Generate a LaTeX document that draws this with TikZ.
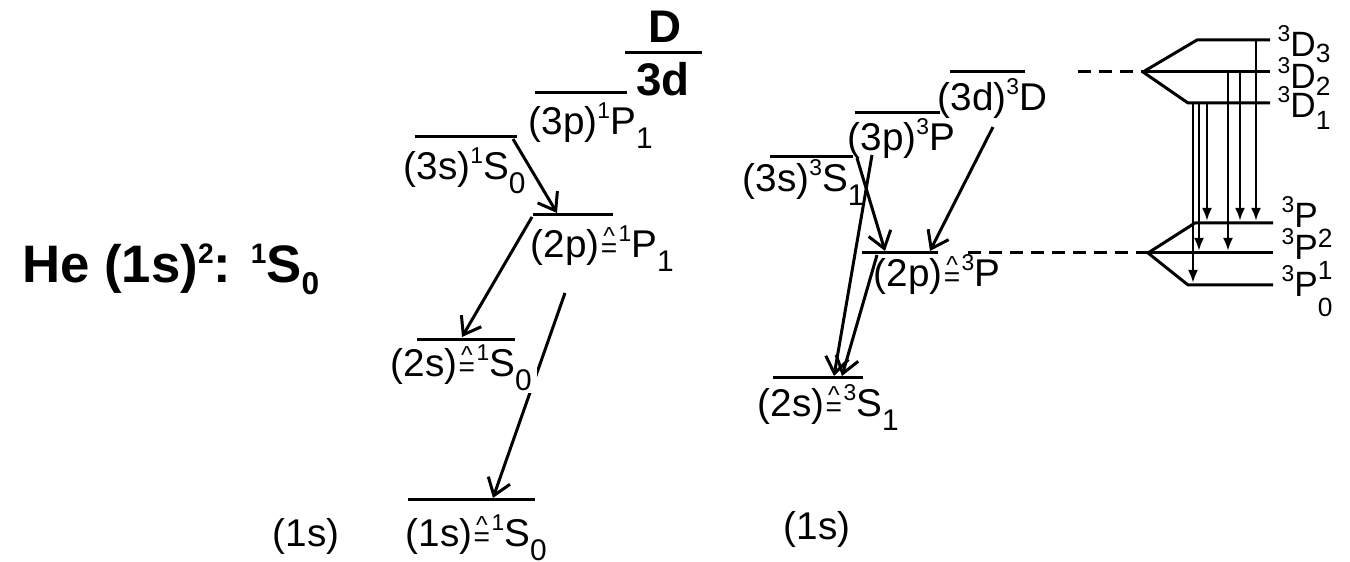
\documentclass[tikz,border=0pt]{standalone}
\usepackage{fontspec}
\setmainfont{Liberation Sans}
\usetikzlibrary{arrows.meta}
\newcommand\hi[1]{\raisebox{0.16cm}{\fontsize{6.5pt}{7pt}\selectfont #1}}
\newcommand\lo[1]{\raisebox{-0.14cm}{\fontsize{8.5pt}{9pt}\selectfont #1}}
\newcommand\fhi[1]{\raisebox{0.15cm}{\fontsize{6.5pt}{7pt}\selectfont #1}}
\newcommand\flo[2]{\raisebox{-#1}{\fontsize{7.5pt}{8pt}\selectfont #2}}
\newcommand\corr{\leavevmode\hbox{\kern0.4pt\vbox{\offinterlineskip\halign{\hfil##\hfil\cr
  \hbox{\fontsize{7pt}{7pt}\selectfont\char"005E}\cr
  \hbox{\fontsize{8pt}{8pt}\selectfont =}\cr}}\kern0.4pt}}
\begin{document}
\begin{tikzpicture}[x=0.01cm,y=-0.01cm,
  lvl/.style={line width=0.85pt},
  lab/.style={anchor=base west,inner sep=0pt,font=\fontsize{11pt}{13pt}\selectfont},
  bigl/.style={anchor=base,inner sep=0pt,font=\bfseries\fontsize{13pt}{15pt}\selectfont},
  fl/.style={anchor=base west,inner sep=0pt,font=\fontsize{10pt}{12pt}\selectfont},
  tr/.style={line width=0.85pt,-{Straight Barb[length=1.6mm,width=2.3mm]}},
  fs/.style={line width=0.85pt,-{Latex[length=1.3mm,width=1mm]}},
  dsh/.style={line width=0.85pt,dash pattern=on 0.13cm off 0.08cm}]
\useasboundingbox (0,0) rectangle (1350,562);

% heading
\node[anchor=base east,inner sep=0pt,font=\bfseries\fontsize{15pt}{17pt}\selectfont] (head) at (320,283)
  {He (1s)\raisebox{0.19cm}{\fontsize{8pt}{8pt}\selectfont 2}: \raisebox{0.19cm}{\fontsize{8pt}{8pt}\selectfont 1}S\raisebox{-0.12cm}{\fontsize{9pt}{9pt}\selectfont 0}};

% ---------- singlet levels ----------
\coordinate (DL) at (625,53); \coordinate (DR) at (702,53);
\coordinate (s3pL) at (535,93); \coordinate (s3pR) at (627,93);
\coordinate (s3sL) at (415,137); \coordinate (s3sR) at (517,137);
\coordinate (s2pL) at (533,215); \coordinate (s2pR) at (613,215);
\coordinate (s2sL) at (417,340); \coordinate (s2sR) at (515,340);
\coordinate (s1sL) at (408,500); \coordinate (s1sR) at (535,500);
\foreach \a in {D,s3p,s3s,s2p,s2s,s1s} \draw[lvl] (\a L) -- (\a R);

\node[bigl] (Dtop) at (665,43) {D};
\node[bigl] (Dbot) at (663,96) {3d};

% singlet transitions
\coordinate (a1s) at (513,139); \coordinate (a1e) at (557,213);
\coordinate (a2s) at (532,217); \coordinate (a2e) at (462,337);
\coordinate (a3s) at (565,293); \coordinate (a3e) at (493,498);
\draw[tr] (a1s) -- (a1e);
\draw[tr] (a2s) -- (a2e);
\draw[tr] (a3s) -- (a3e);

\node[lab] (t3p) at (528,135) {(3p)\hi{1}P\lo{1}};
\node[lab] (t3s) at (403,180) {(3s)\hi{1}S\lo{0}};
\node[lab] (t2p) at (530,258) {(2p)\corr\hi{1}P\lo{1}};
\node[lab,fill=white,inner xsep=0.05cm,inner ysep=0.02cm] (t2s) at (385,377) {(2s)\corr\hi{1}S\lo{0}};
\node[lab] (t1s) at (405,547) {(1s)\corr\hi{1}S\lo{0}};
\node[lab] (c1) at (272,547) {(1s)};

% ---------- triplet levels ----------
\coordinate (u3dL) at (950,72); \coordinate (u3dR) at (1025,72);
\coordinate (u3pL) at (855,113); \coordinate (u3pR) at (940,113);
\coordinate (u3sL) at (770,157); \coordinate (u3sR) at (853,157);
\coordinate (u2pL) at (862,253); \coordinate (u2pR) at (938,253);
\coordinate (u2sL) at (773,378); \coordinate (u2sR) at (863,378);
\foreach \a in {u3d,u3p,u3s,u2p,u2s} \draw[lvl] (\a L) -- (\a R);

\node[lab] (v3d) at (937,111) {(3d)\hi{3}D};
\node[lab] (v3p) at (847,151) {(3p)\hi{3}P};
\node[lab] (v3s) at (742,192) {(3s)\hi{3}S\lo{1}};
\node[lab] (v2p) at (873,287) {(2p)\corr\hi{3}P};
\node[lab] (v2s) at (757,417) {(2s)\corr\hi{3}S\lo{1}};
\node[lab] (c2) at (783,540) {(1s)};

% triplet transitions
\coordinate (b1s) at (993,127); \coordinate (b1e) at (930,251);
\coordinate (b2s) at (857,158); \coordinate (b2e) at (885,251);
\coordinate (b3s) at (872,155); \coordinate (b3e) at (834,376);
\coordinate (b4s) at (877,255); \coordinate (b4e) at (842,376);
\draw[tr] (b1s) -- (b1e);
\draw[tr] (b2s) -- (b2e);
\draw[tr] (b3s) -- (b3e);
\draw[tr] (b4s) -- (b4e);

% ---------- fine structure ----------
\coordinate (Dds) at (1078,72); \coordinate (Dap) at (1143,72);
\coordinate (D3c) at (1197,40); \coordinate (D3e) at (1270,40);
\coordinate (D2e) at (1270,72);
\coordinate (D1c) at (1188,103); \coordinate (D1e) at (1270,103);
\draw[dsh] (Dds) -- (Dap);
\draw[lvl,line join=round] (Dap) -- (D3c) -- (D3e);
\draw[lvl] (Dap) -- (D2e);
\draw[lvl,line join=round] (Dap) -- (D1c) -- (D1e);

\coordinate (Pds) at (968,253); \coordinate (Pap) at (1148,253);
\coordinate (P2c) at (1195,223); \coordinate (P2e) at (1273,223);
\coordinate (P1e) at (1273,253);
\coordinate (P0c) at (1188,285); \coordinate (P0e) at (1273,285);
\draw[dsh] (Pds) -- (Pap);
\draw[lvl,line join=round] (Pap) -- (P2c) -- (P2e);
\draw[lvl] (Pap) -- (P1e);
\draw[lvl,line join=round] (Pap) -- (P0c) -- (P0e);

\foreach \n/\x/\ya/\yb in {1/1193/103/283, 2/1199/103/251, 3/1207/103/221,
                           4/1228/72/251, 5/1240/72/221, 6/1256/40/221} {
  \coordinate (f\n s) at (\x,\ya); \coordinate (f\n e) at (\x,\yb);
  \draw[fs] (f\n s) -- (f\n e);
}

\node[fl] (lD3) at (1277,57) {\fhi{3}D\flo{0.06cm}{3}};
\node[fl] (lD2) at (1277,89) {\fhi{3}D\flo{0.07cm}{2}};
\node[fl] (lD1) at (1277,118) {\fhi{3}D\flo{0.12cm}{1}};
\node[fl] (lP2) at (1281,228) {\fhi{3}P\flo{0.2cm}{2}};
\node[fl] (lP1) at (1281,260) {\fhi{3}P\flo{0.2cm}{1}};
\node[fl] (lP0) at (1281,297) {\fhi{3}P\flo{0.2cm}{0}};
\end{tikzpicture}
\end{document}
